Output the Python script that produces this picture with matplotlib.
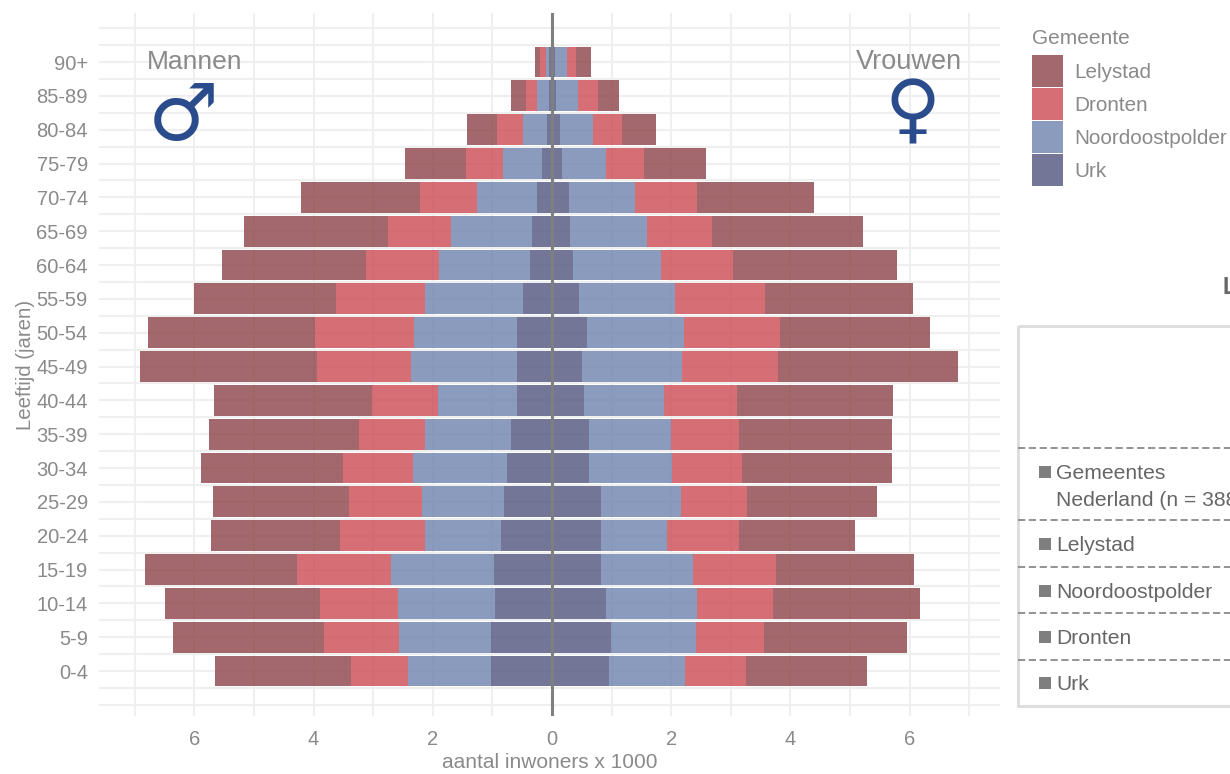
import matplotlib
matplotlib.use("Agg")
import matplotlib.pyplot as plt
from matplotlib.patches import Patch, Rectangle
import numpy as np

plt.rcParams['font.family'] = ['Liberation Sans', 'DejaVu Sans']

AGES = ['0-4', '5-9', '10-14', '15-19', '20-24', '25-29', '30-34', '35-39', '40-44', '45-49',
        '50-54', '55-59', '60-64', '65-69', '70-74', '75-79', '80-84', '85-89', '90+']

# aantal inwoners x 1000, per gemeente, van jong naar oud
MEN_URK = [1.02, 1.02, 0.95, 0.97, 0.85, 0.81, 0.76, 0.68, 0.58, 0.58,
           0.58, 0.49, 0.37, 0.34, 0.25, 0.17, 0.08, 0.05, 0.05]
MEN_NOP = [1.40, 1.55, 1.64, 1.73, 1.28, 1.37, 1.57, 1.45, 1.33, 1.79,
           1.74, 1.64, 1.52, 1.35, 1.01, 0.65, 0.40, 0.20, 0.05]
MEN_DRONTEN = [0.96, 1.25, 1.30, 1.57, 1.42, 1.23, 1.18, 1.11, 1.11, 1.57,
               1.66, 1.50, 1.23, 1.06, 0.95, 0.63, 0.44, 0.19, 0.10]
MEN_LELYSTAD = [2.27, 2.54, 2.60, 2.55, 2.17, 2.27, 2.38, 2.51, 2.65, 2.97,
                2.80, 2.38, 2.41, 2.41, 2.00, 1.01, 0.50, 0.24, 0.09]

WOMEN_URK = [0.96, 0.99, 0.91, 0.82, 0.82, 0.82, 0.62, 0.62, 0.53, 0.50,
             0.58, 0.45, 0.36, 0.31, 0.29, 0.16, 0.14, 0.07, 0.05]
WOMEN_NOP = [1.28, 1.42, 1.52, 1.54, 1.11, 1.35, 1.40, 1.38, 1.35, 1.68,
             1.64, 1.62, 1.47, 1.28, 1.11, 0.75, 0.55, 0.36, 0.21]
WOMEN_DRONTEN = [1.01, 1.14, 1.28, 1.40, 1.21, 1.11, 1.16, 1.14, 1.23, 1.62,
                 1.61, 1.50, 1.21, 1.09, 1.04, 0.63, 0.48, 0.34, 0.15]
WOMEN_LELYSTAD = [2.03, 2.41, 2.46, 2.31, 1.95, 2.17, 2.53, 2.57, 2.62, 3.02,
                  2.51, 2.48, 2.75, 2.54, 1.95, 1.04, 0.58, 0.36, 0.24]

NAMES = ['Urk', 'Noordoostpolder', 'Dronten', 'Lelystad']
COLORS = ['#50547c', '#6e82ae', '#cc4a54', '#8c4248']
GREY = '#8a8a8a'
W, H = 1230, 774

fig = plt.figure(figsize=(W / 100, H / 100), dpi=100)
ax = fig.add_axes([99 / W, 1 - 716 / H, 901 / W, 703 / H])

y = np.arange(len(AGES))
for sign, series in ((-1, [MEN_URK, MEN_NOP, MEN_DRONTEN, MEN_LELYSTAD]),
                     (1, [WOMEN_URK, WOMEN_NOP, WOMEN_DRONTEN, WOMEN_LELYSTAD])):
    left = np.zeros(len(AGES))
    for values, color in zip(series, COLORS):
        values = sign * np.array(values)
        ax.barh(y, values, left=left, height=0.91, color=color, alpha=0.8, linewidth=0)
        left += values

ax.axvline(0, color='#7f7f7f', lw=2.2, zorder=5)

ax.set_xlim(-7.6, 7.517)
ax.set_ylim(-1.33, 19.45)
ax.set_xticks([-6, -4, -2, 0, 2, 4, 6], ['6', '4', '2', '0', '2', '4', '6'])
ax.set_xticks([-7, -5, -3, -1, 1, 3, 5, 7], minor=True)
ax.set_yticks(y, AGES)
ax.set_yticks(np.arange(-1, 19.5, 0.5)[np.arange(-1, 19.5, 0.5) % 1 != 0].tolist() + [-1, 19], minor=True)
ax.grid(True, which='both', color='#efefef', lw=1.5)
ax.set_axisbelow(True)
ax.tick_params(which='both', length=0, labelcolor=GREY, labelsize=14.5)
ax.tick_params(axis='y', pad=8)
ax.tick_params(axis='x', pad=10)
for side in ax.spines.values():
    side.set_visible(False)
ax.set_xlabel('aantal inwoners x 1000', fontsize=15, color=GREY, labelpad=3)
ax.set_ylabel('Leeftijd (jaren)', fontsize=14.7, color=GREY, labelpad=1)

handles = [Patch(facecolor=c, alpha=0.8, edgecolor='none', label=n)
           for c, n in zip(COLORS[::-1], NAMES[::-1])]
leg = fig.legend(handles=handles, title='Gemeente', loc='upper left', frameon=False,
                 bbox_to_anchor=(1032 / W, 1 - 29 / H), borderaxespad=0, borderpad=0,
                 fontsize=14.9, title_fontsize=15, labelcolor=GREY, alignment='left',
                 handlelength=1.5, handleheight=2.0, labelspacing=0.05, handletextpad=0.55)
leg.get_title().set_color(GREY)
leg._legend_box.sep += 4.5

# overlay in pixels for the annotations and the cut-off side panel
over = fig.add_axes([0, 0, 1, 1], zorder=10)
over.set_xlim(0, W)
over.set_ylim(H, 0)
over.axis('off')
over.patch.set_alpha(0)

over.text(194.5, 62, 'Mannen', fontsize=19, color=GREY, ha='center', va='center')
over.text(909, 62, 'Vrouwen', fontsize=19.5, color=GREY, ha='center', va='center')
over.text(183.5, 118, '\u2642', fontsize=57, color='#2b4c8c', ha='center', va='center',
          family='DejaVu Sans', fontweight='bold')
over.text(912, 113, '\u2640', fontsize=55, color='#2b4c8c', ha='center', va='center',
          family='DejaVu Sans', fontweight='bold')

over.text(1222, 287, 'L', fontsize=16.5, fontweight='bold', color='#666666', ha='left', va='center')
over.add_patch(Rectangle((1018, 326), 240, 380, fill=False, ec='#dedede', lw=2.2))
for yy in [448, 520, 567, 613, 660]:
    over.plot([1018, W], [yy, yy], color='#8a8a8a', lw=1.3, ls=(0, (4, 2)))

rows = [(472, 'Gemeentes'), (544, 'Lelystad'), (591, 'Noordoostpolder'), (637, 'Dronten'), (683, 'Urk')]
for yy, label in rows:
    over.add_patch(Rectangle((1039, yy - 6), 12, 12, color='#7f7f7f', lw=0))
    over.text(1056, yy + 7, label, fontsize=15.2, color='#666666', ha='left', va='baseline')
over.text(1056, 506, 'Nederland (n = 388)', fontsize=15.2, color='#666666', ha='left', va='baseline')

plt.savefig('out.png', dpi=100)
